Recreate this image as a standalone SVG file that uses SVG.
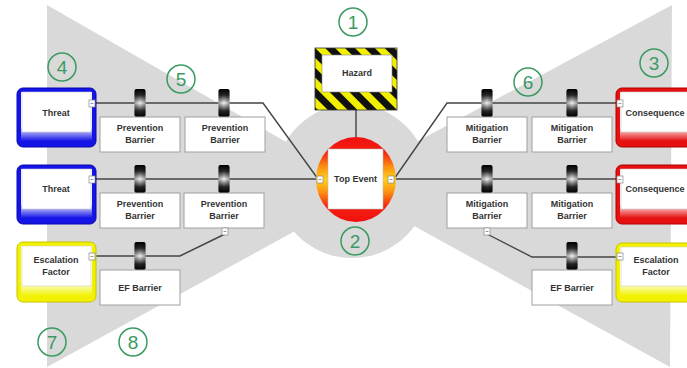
<svg xmlns="http://www.w3.org/2000/svg" width="687" height="368" viewBox="0 0 687 368">
<defs>
<linearGradient id="cyl" x1="0" y1="0" x2="0" y2="1">
<stop offset="0" stop-color="#000"/><stop offset="0.22" stop-color="#2a2a2a"/><stop offset="0.5" stop-color="#f4f4f4"/><stop offset="0.78" stop-color="#2a2a2a"/><stop offset="1" stop-color="#000"/>
</linearGradient>
<linearGradient id="cylh" x1="0" y1="0" x2="1" y2="0">
<stop offset="0" stop-color="#000" stop-opacity="0.35"/><stop offset="0.5" stop-color="#000" stop-opacity="0"/><stop offset="1" stop-color="#000" stop-opacity="0.35"/>
</linearGradient>
<linearGradient id="blueG" x1="0" y1="0" x2="0" y2="1">
<stop offset="0" stop-color="#fff"/><stop offset="0.7" stop-color="#fff"/><stop offset="1" stop-color="#1414e6"/>
</linearGradient>
<linearGradient id="redG" x1="0" y1="0" x2="0" y2="1">
<stop offset="0" stop-color="#fff"/><stop offset="0.7" stop-color="#fff"/><stop offset="1" stop-color="#e61010"/>
</linearGradient>
<linearGradient id="yelG" x1="0" y1="0" x2="0" y2="1">
<stop offset="0" stop-color="#fff"/><stop offset="0.7" stop-color="#fff"/><stop offset="1" stop-color="#f2f200"/>
</linearGradient>
<linearGradient id="topG" x1="0" y1="0" x2="0" y2="1">
<stop offset="0" stop-color="#f01010"/><stop offset="0.18" stop-color="#f42010"/><stop offset="0.34" stop-color="#fb8a10"/><stop offset="0.5" stop-color="#ffd21a"/><stop offset="0.66" stop-color="#fb8a10"/><stop offset="0.82" stop-color="#f42010"/><stop offset="1" stop-color="#f01010"/>
</linearGradient>
<pattern id="haz" width="14" height="14" patternUnits="userSpaceOnUse" patternTransform="rotate(-45)">
<rect width="14" height="14" fill="#f2f000"/><rect width="7" height="14" fill="#111"/>
</pattern>
<g id="cylinder"><rect x="-5.5" y="-14" width="11" height="28" rx="2" fill="url(#cyl)"/><rect x="-5.5" y="-14" width="11" height="28" rx="2" fill="url(#cylh)"/></g>
<g id="sq"><rect x="0" y="0" width="6" height="7" fill="#fff" stroke="#888" stroke-width="0.7"/><line x1="1.6" y1="3.5" x2="4.4" y2="3.5" stroke="#666" stroke-width="0.7"/></g>
</defs>
<style>
.bg{fill:#d9d9d9}
.ln{fill:none;stroke:#444;stroke-width:1.4}
.box{fill:#fff;stroke:#a0a0a0;stroke-width:1}
.t{font-family:"Liberation Sans",Arial,sans-serif;font-weight:bold;font-size:9px;fill:#333;text-anchor:middle}
.num circle{fill:none;stroke:#3a9a62;stroke-width:1.5}
.num text{font-family:"Liberation Sans",Arial,sans-serif;font-size:19px;fill:#3a9a62;text-anchor:middle}
</style>
<rect width="687" height="368" fill="#fff"/>
<g id="bowtie">
<polygon class="bg" points="47,5 370,190 47,367"/>
<polygon class="bg" points="672,5 338,184 670,367"/>
<circle class="bg" cx="352" cy="181" r="77"/>
</g>
<g id="connectors">
<polyline class="ln" points="95,103 263,103 318,179"/>
<line class="ln" x1="95" y1="179" x2="318" y2="179"/>
<polyline class="ln" points="225,234 180,256 95,256"/>
<polyline class="ln" points="394,179 447,103 618,103"/>
<line class="ln" x1="394" y1="179" x2="618" y2="179"/>
<polyline class="ln" points="487,234 532,257 618,257"/>
<line class="ln" x1="356" y1="110" x2="356" y2="137"/>
</g>
<g id="threat1">
<rect x="17" y="88" width="79" height="59" rx="6" fill="#1414e6" stroke="#0a0ab0"/>
<rect x="21" y="92" width="71" height="49" fill="url(#blueG)"/>
<rect x="22" y="92" width="69" height="40" fill="#fff" stroke="#c8c8d8" stroke-width="0.6"/>
<text class="t" x="56" y="116">Threat</text>
<use href="#sq" x="89" y="100"/>
</g>
<g id="threat2">
<rect x="17" y="165" width="79" height="59" rx="6" fill="#1414e6" stroke="#0a0ab0"/>
<rect x="21" y="169" width="71" height="49" fill="url(#blueG)"/>
<rect x="22" y="169" width="69" height="40" fill="#fff" stroke="#c8c8d8" stroke-width="0.6"/>
<text class="t" x="56" y="192">Threat</text>
<use href="#sq" x="89" y="176"/>
</g>
<g id="escalation-left">
<rect x="17" y="242" width="79" height="60" rx="6" fill="#f2f200" stroke="#c6c200"/>
<rect x="21" y="246" width="71" height="50" fill="url(#yelG)"/>
<rect x="22" y="246" width="69" height="40" fill="#fff" stroke="#d0d0b0" stroke-width="0.6"/>
<text class="t" x="56" y="263">Escalation</text>
<text class="t" x="56" y="275">Factor</text>
<use href="#sq" x="89" y="253"/>
</g>
<g id="pb1">
<use href="#cylinder" x="140" y="103"/>
<rect class="box" x="100" y="117" width="80" height="35"/>
<text class="t" x="140" y="131">Prevention</text><text class="t" x="140" y="143">Barrier</text>
</g>
<g id="pb2">
<use href="#cylinder" x="224" y="103"/>
<rect class="box" x="185" y="117" width="80" height="35"/>
<text class="t" x="225" y="131">Prevention</text><text class="t" x="225" y="143">Barrier</text>
</g>
<g id="pb3">
<use href="#cylinder" x="140" y="179"/>
<rect class="box" x="100" y="193" width="80" height="35"/>
<text class="t" x="140" y="207">Prevention</text><text class="t" x="140" y="219">Barrier</text>
</g>
<g id="pb4">
<use href="#cylinder" x="224" y="179"/>
<rect class="box" x="184" y="193" width="80" height="35"/>
<text class="t" x="224" y="207">Prevention</text><text class="t" x="224" y="219">Barrier</text>
<use href="#sq" x="222" y="228"/>
</g>
<g id="ef-left">
<use href="#cylinder" x="140" y="256"/>
<rect class="box" x="100" y="270" width="80" height="35"/>
<text class="t" x="140" y="291">EF Barrier</text>
</g>
<g id="hazard">
<rect x="315" y="48" width="82" height="62" fill="url(#haz)" stroke="#333" stroke-width="0.8"/>
<rect x="322" y="55" width="70" height="37" fill="#fff" stroke="#888" stroke-width="0.6"/>
<text class="t" x="357" y="76">Hazard</text>
</g>
<g id="top-event">
<ellipse cx="356" cy="179.5" rx="40" ry="42.5" fill="url(#topG)"/>
<rect x="328" y="149" width="55" height="60" fill="#fff" stroke="#bbb" stroke-width="0.6"/>
<text class="t" x="355.5" y="182">Top Event</text>
<use href="#sq" x="317" y="176"/>
<use href="#sq" x="388" y="176"/>
</g>
<g id="mb1">
<use href="#cylinder" x="487" y="103"/>
<rect class="box" x="447" y="117" width="80" height="35"/>
<text class="t" x="487" y="131">Mitigation</text><text class="t" x="487" y="143">Barrier</text>
</g>
<g id="mb2">
<use href="#cylinder" x="572" y="103"/>
<rect class="box" x="532" y="117" width="80" height="35"/>
<text class="t" x="572" y="131">Mitigation</text><text class="t" x="572" y="143">Barrier</text>
</g>
<g id="mb3">
<use href="#cylinder" x="487" y="179"/>
<rect class="box" x="447" y="193" width="80" height="35"/>
<text class="t" x="487" y="207">Mitigation</text><text class="t" x="487" y="219">Barrier</text>
<use href="#sq" x="484" y="228"/>
</g>
<g id="mb4">
<use href="#cylinder" x="572" y="179"/>
<rect class="box" x="532" y="193" width="80" height="35"/>
<text class="t" x="572" y="207">Mitigation</text><text class="t" x="572" y="219">Barrier</text>
</g>
<g id="ef-right">
<use href="#cylinder" x="572" y="256"/>
<rect class="box" x="532" y="270" width="80" height="35"/>
<text class="t" x="572" y="291">EF Barrier</text>
</g>
<g id="consequence1">
<rect x="616" y="88" width="82" height="59" rx="6" fill="#e61010" stroke="#b00000"/>
<rect x="620" y="92" width="74" height="49" fill="url(#redG)"/>
<rect x="621" y="92" width="72" height="40" fill="#fff" stroke="#d8c8c8" stroke-width="0.6"/>
<text class="t" x="655" y="116">Consequence</text>
<use href="#sq" x="617" y="100"/>
</g>
<g id="consequence2">
<rect x="616" y="165" width="82" height="59" rx="6" fill="#e61010" stroke="#b00000"/>
<rect x="620" y="169" width="74" height="49" fill="url(#redG)"/>
<rect x="621" y="169" width="72" height="40" fill="#fff" stroke="#d8c8c8" stroke-width="0.6"/>
<text class="t" x="655" y="192">Consequence</text>
<use href="#sq" x="617" y="176"/>
</g>
<g id="escalation-right">
<rect x="616" y="243" width="82" height="59" rx="6" fill="#f2f200" stroke="#c6c200"/>
<rect x="620" y="247" width="74" height="49" fill="url(#yelG)"/>
<rect x="621" y="247" width="72" height="39" fill="#fff" stroke="#d0d0b0" stroke-width="0.6"/>
<text class="t" x="656" y="263">Escalation</text>
<text class="t" x="656" y="275">Factor</text>
<use href="#sq" x="617" y="253"/>
</g>
<g id="labels" class="num">
<g><circle cx="353" cy="22" r="14"/><text x="353" y="29">1</text></g>
<g><circle cx="355" cy="241" r="14"/><text x="355" y="248">2</text></g>
<g><circle cx="654" cy="63" r="14"/><text x="654" y="70">3</text></g>
<g><circle cx="62" cy="67" r="14"/><text x="62" y="74">4</text></g>
<g><circle cx="181" cy="79" r="14"/><text x="181" y="86">5</text></g>
<g><circle cx="528" cy="82" r="14"/><text x="528" y="89">6</text></g>
<g><circle cx="52" cy="342" r="14"/><text x="52" y="349">7</text></g>
<g><circle cx="133" cy="342" r="14"/><text x="133" y="349">8</text></g>
</g>
</svg>
